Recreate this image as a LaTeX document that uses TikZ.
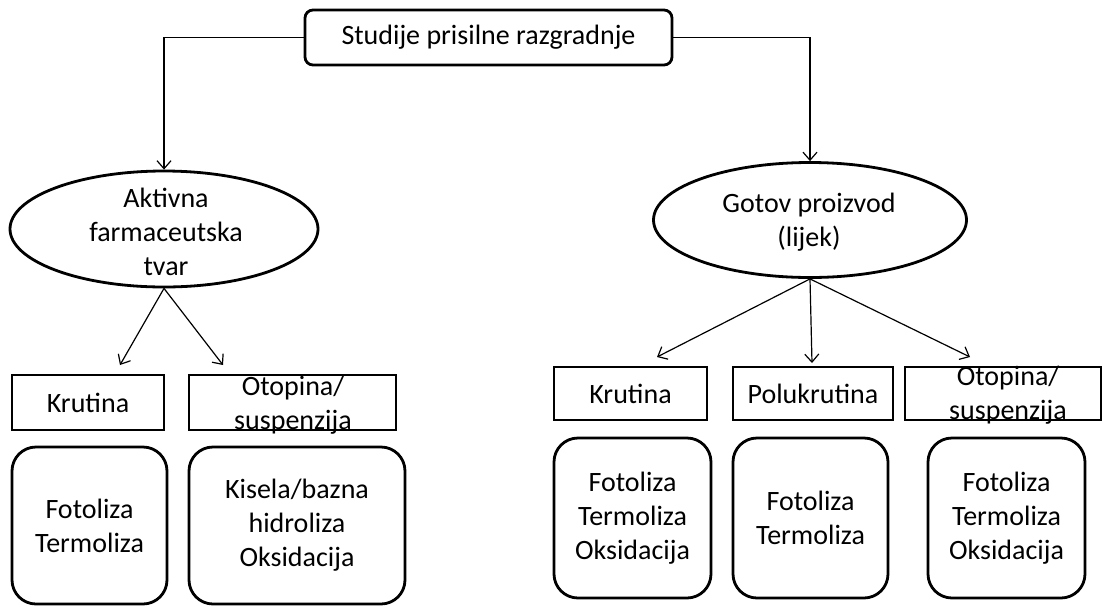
\documentclass[tikz,border=0pt]{standalone}
\usepackage{fontspec}
\setmainfont{Carlito}
\usetikzlibrary{arrows.meta}
\usetikzlibrary{shapes.geometric}

\tikzset{
  frame/.style={draw,line width=1.4pt},
  catbox/.style={frame,minimum height=27pt,inner sep=0pt},
  stepbox/.style={frame,rounded corners=12pt,align=center,inner sep=0pt},
  oval/.style={frame,ellipse,inner sep=0pt},
  link/.style={line width=0.6pt,arrows={-Straight Barb[length=4pt,width=7pt]}}
}

\begin{document}
\begin{tikzpicture}[x=0.5pt,y=-0.5pt,font=\fontsize{14pt}{17pt}\selectfont]
                \useasboundingbox (0,0) rectangle (1103,606);

                \node[frame,rounded corners=4pt,minimum width=183.5pt,minimum height=27.5pt] (study) at (488.5,37.5) {Studije prisilne razgradnje};

                % ovals
                \node[oval,minimum width=154pt,minimum height=58pt] (api) at (164,229) {};
                \node[align=center] (apitext) at (166,232) {Aktivna\\farmaceutska\\tvar};
                \node[oval,minimum width=156.5pt,minimum height=57.5pt] (prod) at (810,220) {};
                \node[align=center] (prodtext) at (809,222) {Gotov proizvod\\(lijek)};

                \draw[link] (study.west) -| (api.north);
                \draw[link] (study.east) -| (prod.north);

                % left branch
                \node[catbox,minimum width=76pt,minimum height=27.5pt] (solidA) at (88,402.5) {Krutina};
                \node[catbox,minimum width=103.5pt,minimum height=27.5pt] (liquidA) at (292.5,402.5) {};
                \node[align=center] (liquidAtext) at (293,405) {Otopina/\\suspenzija};

                \coordinate (solidAin) at (120,365);
                \coordinate (liquidAin) at (223,365);
                \draw[link] (api.south) -- (solidAin);
                \draw[link] (api.south) -- (liquidAin);

                \node[stepbox,minimum width=77.5pt,minimum height=78.5pt] (testA1) at (89.5,525.5) {Fotoliza\\Termoliza};
                \node[stepbox,minimum width=108pt,minimum height=78.5pt] (testA2) at (297,525.5) {Kisela/bazna\\hidroliza\\Oksidacija};

                % right branch
                \node[catbox,minimum width=76.5pt,minimum height=26.5pt] (solidB) at (630.5,393.5) {Krutina};
                \node[catbox,minimum width=80pt,minimum height=26.5pt] (semiB) at (813,393.5) {Polukrutina};
                \node[catbox,minimum width=98pt,minimum height=26.5pt] (liquidB) at (1003,393.5) {};
                \node[align=center] (liquidBtext) at (1008,395) {Otopina/\\suspenzija};

                \coordinate (solidBin) at (657,357);
                \coordinate (semiBin) at (812,363);
                \coordinate (liquidBin) at (970,357);
                \draw[link] (prod.south) -- (solidBin);
                \draw[link] (prod.south) -- (semiBin);
                \draw[link] (prod.south) -- (liquidBin);

                \node[stepbox,minimum width=78.5pt,minimum height=80pt] (testB1) at (632.5,518) {Fotoliza\\Termoliza\\Oksidacija};
                \node[stepbox,minimum width=77.5pt,minimum height=80pt] (testB2) at (810.5,518) {Fotoliza\\Termoliza};
                \node[stepbox,minimum width=78.5pt,minimum height=80pt] (testB3) at (1006.5,518) {Fotoliza\\Termoliza\\Oksidacija};
            \end{tikzpicture}
\end{document}
